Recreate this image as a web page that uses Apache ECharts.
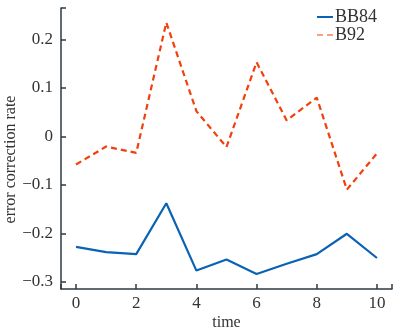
<!DOCTYPE html>
<html>
<head>
<meta charset="utf-8">
<script src="https://cdn.jsdelivr.net/npm/echarts@6/dist/echarts.min.js"></script>
<style>
html, body { margin: 0; padding: 0; background: #fff; }
#chart { width: 394px; height: 330px; }
</style>
</head>
<body>
<div id="chart"></div>
<script>
var chart = echarts.init(document.getElementById('chart'));

let time = [0, 1, 2, 3, 4, 5, 6, 7, 8, 9, 10];
let bb84 = [-0.228, -0.239, -0.243, -0.138, -0.277, -0.254, -0.284, -0.263, -0.243, -0.201, -0.251];
let b92 = [-0.058, -0.021, -0.034, 0.235, 0.052, -0.022, 0.153, 0.033, 0.080, -0.110, -0.035];
let xTicks = [0, 2, 4, 6, 8, 10];
let yTicks = [-0.3, -0.2, -0.1, 0, 0.1, 0.2];

let font = "'Liberation Serif', serif";
let axisColor = '#2c3a42';

let pairs = function(vals) {
    return vals.map((v, i) => [time[i], v]);
};
let minus = function(v) {
    let s = Math.abs(v) < 1e-9 ? '0' : String(+v.toFixed(2));
    return s.replace('-', '\u2212');
};

option = {
    backgroundColor: '#fff',
    animation: false,
    textStyle: { fontFamily: font },
    grid: { left: 61, right: 2, top: 8, bottom: 41, outerBoundsMode: 'none', containLabel: false },
    legend: {
        right: 12,
        top: 3,
        orient: 'vertical',
        itemWidth: 16,
        itemHeight: 2,
        itemGap: 0,
        textStyle: { fontFamily: font, fontSize: 18, color: '#333', lineHeight: 15, padding: [0, 0, 0, -3] },
        data: [
            { name: 'BB84', icon: 'rect' },
            { name: 'B92', icon: 'path://M0,0 L6,0 L6,1 L0,1 Z M10,0 L16,0 L16,1 L10,1 Z' }
        ]
    },
    xAxis: {
        type: 'value',
        min: -0.5,
        max: 10.5,
        name: 'time',
        nameLocation: 'middle',
        nameGap: 26,
        nameMoveOverlap: false,
        nameTextStyle: { fontFamily: font, fontSize: 16, color: '#333' },
        axisLine: { onZero: false, lineStyle: { color: axisColor, width: 1.5 } },
        axisTick: { inside: true, length: 5, customValues: [-0.5].concat(xTicks, [10.5]), lineStyle: { color: axisColor, width: 1.5 } },
        axisLabel: { customValues: xTicks, margin: 6, fontFamily: font, fontSize: 17, color: '#333' },
        splitLine: { show: false }
    },
    yAxis: {
        type: 'value',
        min: -0.315,
        max: 0.265,
        name: 'error correction rate',
        nameLocation: 'middle',
        nameGap: 42,
        nameMoveOverlap: false,
        nameTextStyle: { fontFamily: font, fontSize: 16, color: '#333', padding: [0, 22, 0, 0] },
        axisLine: { show: true, onZero: false, lineStyle: { color: axisColor, width: 1.5 } },
        axisTick: { show: true, inside: true, length: 5, customValues: yTicks.concat([0.265]), lineStyle: { color: axisColor, width: 1.5 } },
        axisLabel: { customValues: yTicks, margin: 8, fontFamily: font, fontSize: 17, color: '#333', formatter: minus },
        splitLine: { show: false }
    },
    series: [{
        name: 'BB84',
        type: 'line',
        data: pairs(bb84),
        symbol: 'none',
        color: '#0a62b4',
        lineStyle: { width: 2.2, color: '#0a62b4' }
    }, {
        name: 'B92',
        type: 'line',
        data: pairs(b92),
        symbol: 'none',
        color: '#f2400c',
        lineStyle: { width: 2.2, color: '#f2400c', type: [6, 4] }
    }]
};
chart.setOption(option);
</script>
</body>
</html>
